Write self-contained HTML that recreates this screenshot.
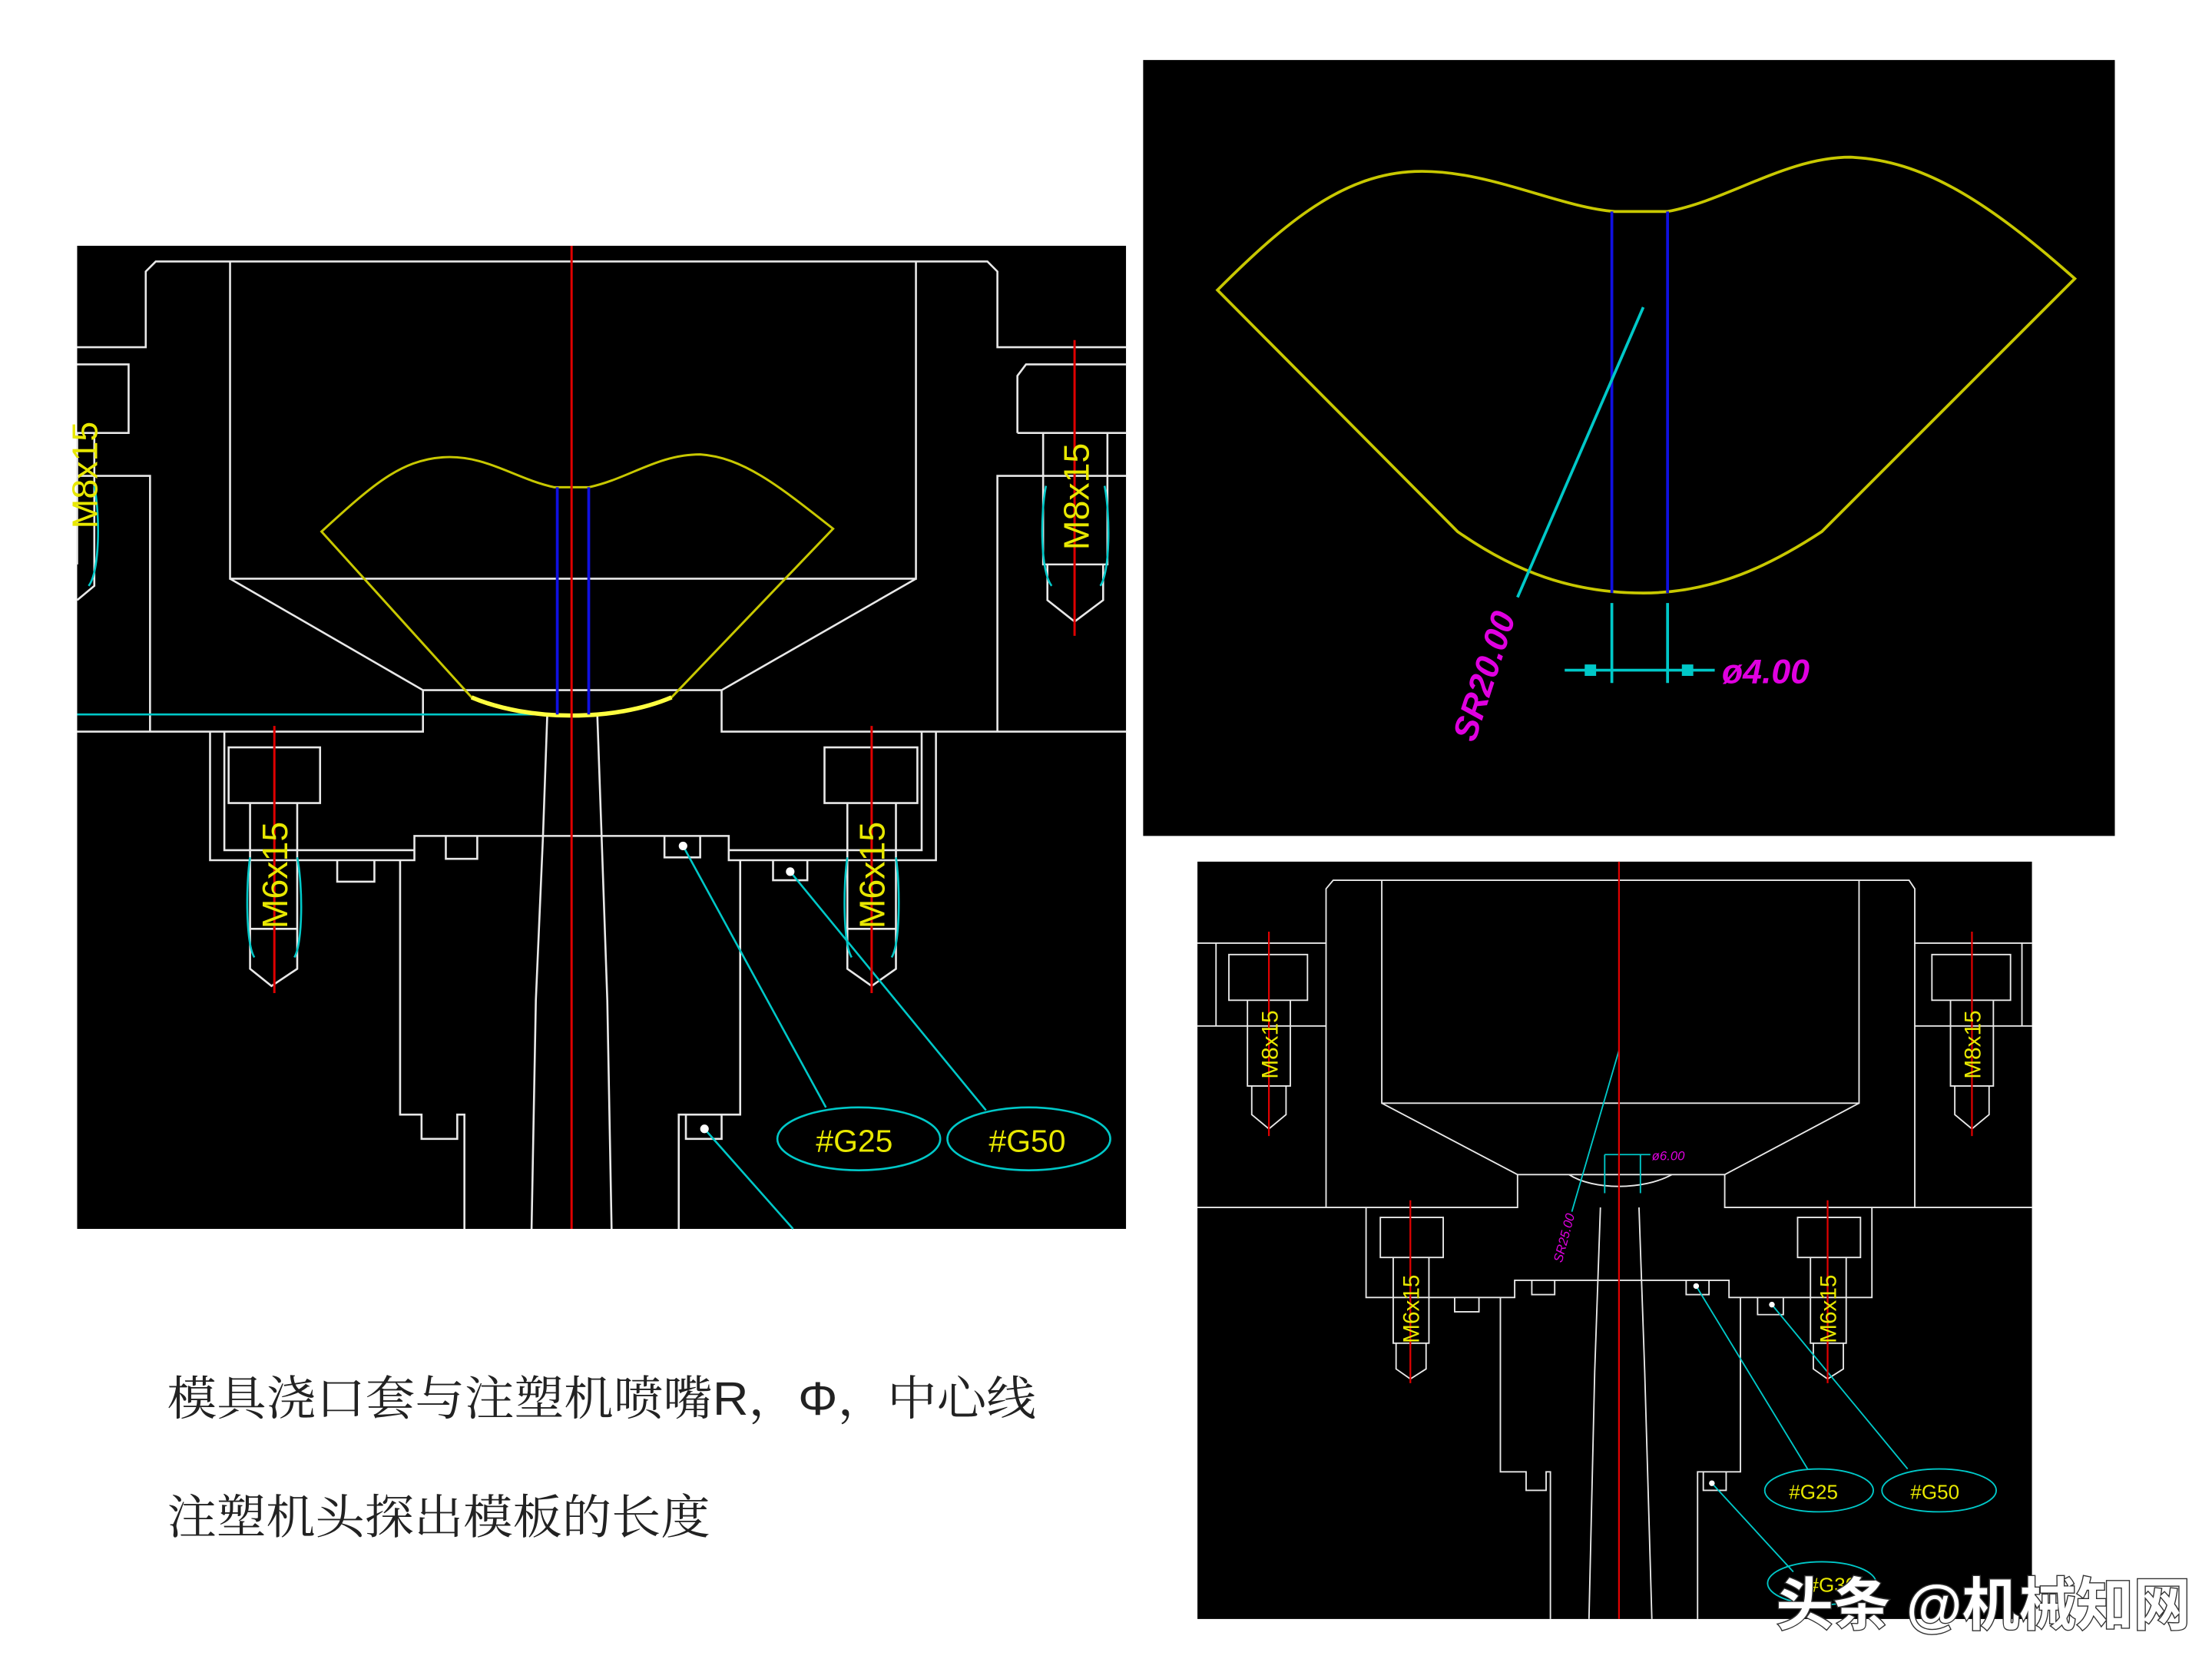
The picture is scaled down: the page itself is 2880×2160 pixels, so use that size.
<!DOCTYPE html>
<html><head><meta charset="utf-8"><style>html,body{margin:0;padding:0;background:#fff;overflow:hidden}svg{display:block}</style></head>
<body>
<svg width="2880" height="2160" viewBox="0 0 1548 1161" preserveAspectRatio="none" xmlns="http://www.w3.org/2000/svg">
<rect width="1548" height="1161" fill="#fff"/>

<!-- LEFT PANEL -->
<rect x="54" y="172" width="734" height="688" fill="#000"/>
<g fill="none" stroke="#e8e8e8" stroke-width="1.4">
<path d="M54,243 H102 V190 L109,183 H691 L698,190 V243 H788"/>
<path d="M54,255 H90 V303 H54"/>
<path d="M54,333 H105 V512"/>
<path d="M161,183 V405 H641 V183"/>
<path d="M161,405 L296,483 H505 L641,405"/>
<path d="M296,483 V512 H54"/>
<path d="M505,483 V512 H788"/>
<path d="M788,333 H698 V512"/>
<path d="M712,303 V263 L718,255 H788"/>
<path d="M712,303 H788"/>
<path d="M147,512 V602 H290 V585 H510 V602 H655 V512"/>
<path d="M157,512 V595 H290"/>
<path d="M645,512 V595 H510"/>
<path d="M160,562 V523 H224 V562 Z"/>
<path d="M577,562 V523 H642 V562 Z"/>
<path d="M280,602 V780 H295 V797 H320 V780 H325 V860"/>
<path d="M518,602 V780 H475 V860"/>
<path d="M236,602 V617 H262 V602"/>
<path d="M312,585 V601 H334 V585"/>
<path d="M465,585 V600 H490 V585"/>
<path d="M541,602 V616 H565 V602"/>
<path d="M480,780 V797 H505 V780"/>
<path d="M383,500 L380,585 L375,700 L372,860"/>
<path d="M418,500 L421,585 L425,700 L428,860"/>
<path d="M175,562 V650 H208 V562 M175,650 V678 L190,690 L208,678 V650"/>
<path d="M593,562 V650 H627 V562 M593,650 V678 L610,690 L627,678 V650"/>
<path d="M730,303 V395 H775 V303 M733,395 V420 L752,435 L772,420 V395"/>
<path d="M54,303 V395 M54,420 L66,410 V303"/>
</g>
<g fill="none" stroke="#00c8c8" stroke-width="1.4">
<path d="M54,500 H385"/>
<path d="M175,600 C172,620 172,660 178,670 M208,600 C212,620 212,660 206,670"/>
<path d="M593,600 C590,620 590,660 596,670 M627,600 C630,620 630,660 624,670"/>
<path d="M732,340 C728,360 728,400 736,410 M773,340 C777,360 777,400 770,410"/>
<path d="M66,340 C70,360 70,400 62,410"/>
<path d="M478,592 L578,775"/>
<path d="M553,610 L690,777"/>
<path d="M493,790 L555,860"/>
<ellipse cx="601" cy="797" rx="57" ry="22"/>
<ellipse cx="720" cy="797" rx="57" ry="22"/>
</g>
<g fill="#fff"><circle cx="478" cy="592" r="3"/><circle cx="553" cy="610" r="3"/><circle cx="493" cy="790" r="3"/></g>
<path d="M225,372 C260,340 280,322 310,320 C340,318 360,335 388,341 H412 C440,335 460,318 490,318 C520,320 545,340 583,370 L470,488 C430,505 370,505 330,488 Z" fill="none" stroke="#c8c800" stroke-width="1.6"/>
<path d="M330,488 C370,505 430,505 470,488" fill="none" stroke="#ffff40" stroke-width="3"/>
<g stroke="#1010e0" stroke-width="2"><line x1="390" y1="341" x2="390" y2="500"/><line x1="412" y1="341" x2="412" y2="500"/></g>
<g stroke="#e00000" stroke-width="1.6"><line x1="400" y1="172" x2="400" y2="860"/><line x1="192" y1="508" x2="192" y2="695"/><line x1="610" y1="508" x2="610" y2="695"/><line x1="752" y1="238" x2="752" y2="445"/></g>
<g fill="#e8e800" font-family="Liberation Sans, sans-serif" font-size="25">
<text transform="translate(201,650) rotate(-90)">M6x15</text>
<text transform="translate(619,650) rotate(-90)">M6x15</text>
<text transform="translate(762,385) rotate(-90)">M8x15</text>
<text transform="translate(68,370) rotate(-90)">M8x15</text>
<text x="571" y="806" font-size="22">#G25</text>
<text x="692" y="806" font-size="22">#G50</text>
</g>

<!-- TOP RIGHT PANEL -->
<rect x="800" y="42" width="680" height="543" fill="#000"/>
<path d="M852,203 C900,155 940,122 990,120 C1040,118 1090,145 1130,148 H1167 C1210,140 1250,110 1295,110 C1345,112 1390,140 1452,195 L1275,372 C1240,395 1200,415 1150,415 C1100,415 1060,400 1020,372 Z" fill="none" stroke="#c8c800" stroke-width="2"/>
<g stroke="#1010e0" stroke-width="2"><line x1="1128" y1="148" x2="1128" y2="415"/><line x1="1167" y1="148" x2="1167" y2="415"/></g>
<g stroke="#00c8c8" stroke-width="2" fill="#00c8c8"><line x1="1150" y1="215" x2="1062" y2="418"/><line x1="1128" y1="422" x2="1128" y2="478"/><line x1="1167" y1="422" x2="1167" y2="478"/><line x1="1095" y1="469" x2="1200" y2="469"/><rect x="1110" y="466" width="6" height="6"/><rect x="1178" y="466" width="6" height="6"/></g>
<g fill="#e000e0" font-family="Liberation Sans, sans-serif" font-style="italic" font-weight="bold">
<text transform="translate(1032,520) rotate(-72)" font-size="24">SR20.00</text>
<text x="1205" y="478" font-size="24">ø4.00</text>
</g>

<!-- BOTTOM RIGHT PANEL -->
<rect x="838" y="603" width="584" height="530" fill="#000"/>
<g fill="none" stroke="#e8e8e8" stroke-width="1">
<path d="M838,660 H928 V622 L933,616 H1336 L1340,622 V660 H1422"/>
<path d="M967,616 V772 H1301 V616"/>
<path d="M967,772 L1062,822 H1207 L1301,772"/>
<path d="M1062,822 V845 H838 M1207,822 V845 H1422"/>
<path d="M928,660 V845 M1340,660 V845"/>
<path d="M838,718 H928 M1422,718 H1340"/>
<path d="M851,660 V718 M1415,660 V718"/>
<path d="M860,700 V668 H915 V700 Z M1352,700 V668 H1407 V700 Z"/>
<path d="M873,700 V760 H903 V700 M876,760 V780 L888,790 L900,780 V760"/>
<path d="M1365,700 V760 H1395 V700 M1368,760 V780 L1380,790 L1392,780 V760"/>
<path d="M956,845 V908 H1060 V896 H1210 V908 H1310 V845"/>
<path d="M966,880 V852 H1010 V880 Z M1258,880 V852 H1302 V880 Z"/>
<path d="M975,880 V940 H1000 V880 M977,940 V958 L987,965 L998,958 V940"/>
<path d="M1267,880 V940 H1292 V880 M1269,940 V958 L1279,965 L1290,958 V940"/>
<path d="M1050,908 V1030 H1068 V1043 H1082 V1030 H1085 V1133"/>
<path d="M1218,908 V1030 H1188 V1133"/>
<path d="M1018,908 V918 H1035 V908 M1072,896 V906 H1088 V896 M1180,896 V906 H1196 V896 M1230,908 V920 H1248 V908 M1192,1030 V1043 H1208 V1030"/>
<path d="M1120,845 L1116,960 L1112,1133 M1147,845 L1151,960 L1156,1133"/>
<path d="M1098,822 C1115,833 1150,833 1170,822"/>
</g>
<g fill="none" stroke="#00c8c8" stroke-width="1">
<path d="M1187,900 L1265,1028 M1240,913 L1335,1028 M1198,1038 L1255,1100"/>
<path d="M1133,735 L1100,848 M1123,808 V835 M1148,808 V835 M1123,808 H1155"/>
<ellipse cx="1273" cy="1043" rx="38" ry="15"/>
<ellipse cx="1357" cy="1043" rx="40" ry="15"/>
<ellipse cx="1275" cy="1108" rx="38" ry="15"/>
</g>
<g fill="#fff"><circle cx="1187" cy="900" r="2"/><circle cx="1240" cy="913" r="2"/><circle cx="1198" cy="1038" r="2"/></g>
<g stroke="#e00000" stroke-width="1.2"><line x1="1133" y1="603" x2="1133" y2="1133"/><line x1="888" y1="652" x2="888" y2="795"/><line x1="1380" y1="652" x2="1380" y2="795"/><line x1="987" y1="840" x2="987" y2="968"/><line x1="1279" y1="840" x2="1279" y2="968"/></g>
<g fill="#e8e800" font-family="Liberation Sans, sans-serif" font-size="16">
<text transform="translate(894,755) rotate(-90)">M8x15</text>
<text transform="translate(1386,755) rotate(-90)">M8x15</text>
<text transform="translate(993,940) rotate(-90)">M6x15</text>
<text transform="translate(1285,940) rotate(-90)">M6x15</text>
<text x="1252" y="1049" font-size="14">#G25</text>
<text x="1337" y="1049" font-size="14">#G50</text>
<text x="1265" y="1114" font-size="14">#G30</text>
</g>
<g fill="#e000e0" font-family="Liberation Sans, sans-serif" font-style="italic" font-size="9">
<text transform="translate(1093,884) rotate(-75)">SR25.00</text>
<text x="1156" y="812">ø6.00</text>
</g>

<!-- CAPTIONS -->
<g font-family="Liberation Sans, 'Noto Serif CJK SC', 'Noto Sans CJK SC', serif" font-size="33" fill="#222">
<text x="117" y="990" textLength="608" lengthAdjust="spacingAndGlyphs">模具浇口套与注塑机喷嘴R，Φ，中心线</text>
<text x="117" y="1073" textLength="380" lengthAdjust="spacingAndGlyphs">注塑机头探出模板的长度</text>
</g>
<text x="1243" y="1137" font-family="Liberation Sans, 'Noto Sans CJK SC', sans-serif" font-size="40" font-weight="bold" fill="#fff" stroke="#333" stroke-width="1.5" paint-order="stroke">头条 @机械知网</text>
</svg>
</body></html>
